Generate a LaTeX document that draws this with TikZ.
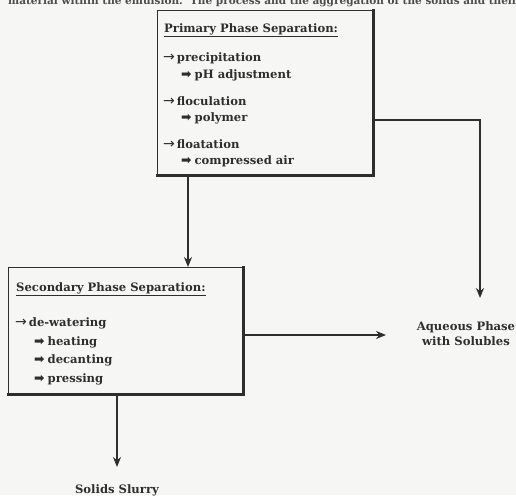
\documentclass[tikz,border=0pt]{standalone}
\usepackage{fontspec}
\setmainfont{DejaVu Serif}
\newfontfamily\arrfont{DejaVu Sans}
\usetikzlibrary{arrows.meta}
\definecolor{ink}{HTML}{2E2E2E}
\definecolor{paper}{HTML}{F6F6F4}
\tikzset{
  boxframe/.style={draw=ink, line width=1.3pt, minimum width=#1, inner sep=0pt, anchor=north west},
  lbl/.style={anchor=west, inner sep=0pt, text=ink, font=\bfseries\fontsize{11.6}{13}\selectfont},
  endlbl/.style={align=center, inner sep=0pt, text=ink, font=\bfseries\fontsize{11.6}{15}\selectfont},
  conn/.style={draw=ink, line width=1.8pt},
  flow/.style={conn, -{Stealth[length=10pt,width=8pt]}},
  shadowline/.style={draw=ink, line width=2.6pt, line cap=rect}
}
\newcommand{\thinarr}{{\arrfont\mdseries\fontsize{14}{14}\selectfont→}\hspace{2pt}}
\newcommand{\fatarr}{{\arrfont\bfseries\fontsize{12.5}{13}\selectfont ➡}\hspace{3pt}}
\begin{document}
\begin{tikzpicture}[x=1pt,y=-1pt]
\useasboundingbox (0,0) rectangle (516,495);
\fill[paper] (0,0) rectangle (516,495);
\clip (0,0) rectangle (516,495);

% cut-off line of running text at the top
\node[anchor=base west, inner sep=0pt, text=ink!85, font=\bfseries\fontsize{10.5}{12}\selectfont] (toptext) at (8,5)
  {material within the emulsion.\ \ The process and the aggregation of the solids and their};

% primary box
\node[boxframe=215pt, minimum height=164pt] (prim) at (157,10) {};
\draw[shadowline] (prim.north east) -- (prim.south east) -- (prim.south west);
\node[lbl] (p0) at (164,30) {\underline{Primary Phase Separation:}};
\node[lbl] (p1) at (163,58) {\thinarr precipitation};
\node[lbl] (p2) at (181,75) {\fatarr pH adjustment};
\node[lbl] (p3) at (163,101) {\thinarr floculation};
\node[lbl] (p4) at (181,118) {\fatarr polymer};
\node[lbl] (p5) at (163,144) {\thinarr floatation};
\node[lbl] (p6) at (181,161) {\fatarr compressed air};

% secondary box
\node[boxframe=234pt, minimum height=126pt] (sec) at (8,267) {};
\draw[shadowline] (sec.north east) -- (sec.south east) -- (sec.south west);
\node[lbl] (s0) at (16,289) {\underline{Secondary Phase Separation:}};
\node[lbl] (s1) at (15,323) {\thinarr de-watering};
\node[lbl] (s2) at (34,342) {\fatarr heating};
\node[lbl] (s3) at (34,360) {\fatarr decanting};
\node[lbl] (s4) at (34,379) {\fatarr pressing};

% end labels
\node[endlbl] (aq) at (466,334) {Aqueous Phase\\with Solubles};
\node[endlbl] (sol) at (117,490) {Solids Slurry};

% helper coordinates
\coordinate (c1) at (188,0);
\coordinate (c2) at (0,120);
\coordinate (c3) at (480,298);
\coordinate (c4) at (0,335);
\coordinate (c5) at (386,335);
\coordinate (c6) at (117,467);

% connectors
\draw[flow] (prim.south -| c1) -- (sec.north -| c1);
\draw[flow] (prim.east |- c2) -| (c3);
\draw[flow] (sec.east |- c4) -- (c5);
\draw[flow] (sec.south -| c6) -- (c6);
\end{tikzpicture}
\end{document}
